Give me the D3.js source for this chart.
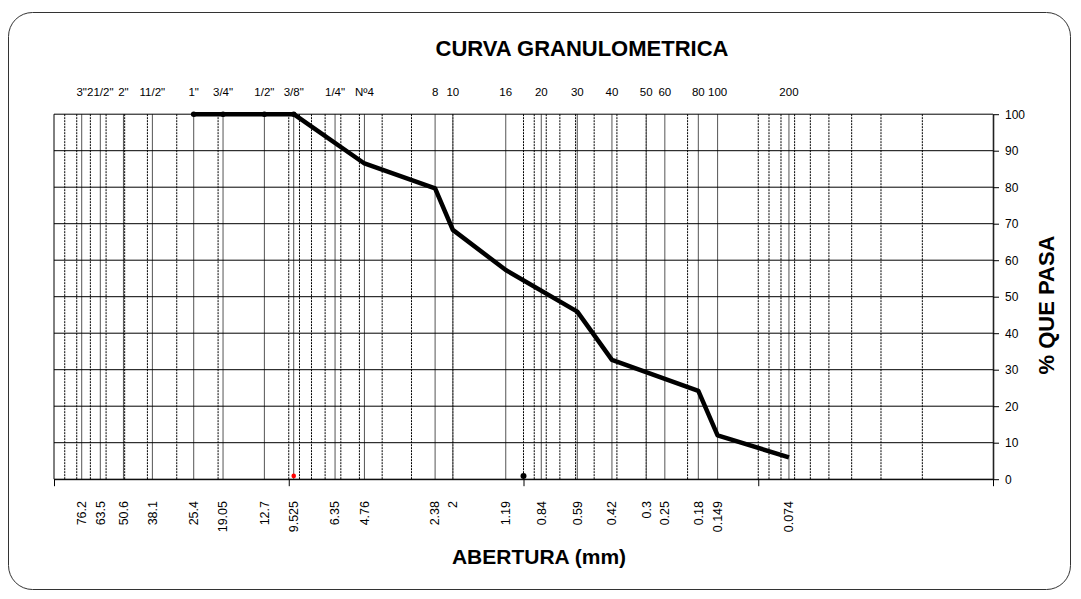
<!DOCTYPE html>
<html><head><meta charset="utf-8">
<script src="https://cdn.jsdelivr.net/npm/d3@7"></script>
<style>body{margin:0;background:#fff;} text{font-family:"Liberation Sans",Arial,sans-serif;}</style>
</head><body><svg id="c" width="1081" height="599"></svg>
<script>
// ---- data ----
const sieveSizes = [76.2,63.5,50.6,38.1,25.4,19.05,12.7,9.525,6.35,4.76,2.38,2,1.19,0.84,0.59,0.42,0.3,0.25,0.18,0.149,0.074];
const sieveNames = ['3"','21/2"','2"','11/2"','1"','3/4"','1/2"','3/8"','1/4"','Nº4','8','10','16','20','30','40','50','60','80','100','200'];
const openingLabels = ["76.2","63.5","50.6","38.1","25.4","19.05","12.7","9.525","6.35","4.76","2.38","2","1.19","0.84","0.59","0.42","0.3","0.25","0.18","0.149","0.074"];
const curveSizes = [25.4,19.05,12.7,9.525,4.76,2.38,2,1.19,0.59,0.42,0.18,0.149,0.074];
const curvePassing = [100,100,100,100,86.5,79.7,68.3,57.3,45.9,32.7,24.2,12.0,6.0];
const markedSizes = [25.4,19.05,12.7,9.525];
const markedPassing = [100,100,100,100];
const blackPointSize = [1];
const blackPointPassing = [0.9];
const redPointSize = [9.525];
const redPointPassing = [0.9];
const yTicks = [0,10,20,30,40,50,60,70,80,90,100];
const majorX = [100,10,1,0.1,0.01];

// ---- layout ----
const L = 54, R = 993, T = 114.2, B = 479.2;
const svg = d3.select("#c");
svg.append("rect").attr("x",8.5).attr("y",12.5).attr("width",1062).attr("height",577)
  .attr("rx",24).attr("fill","#fff").attr("stroke","#333").attr("stroke-width",1);

const x = d3.scaleLog().domain([100,0.01]).range([L,R]);
const y = d3.scaleLinear().domain([0,100]).range([B,T]);

const g = svg.append("g");
// dashed log gridlines
g.selectAll("line.minor").data(x.ticks().filter(v=>v<100 && v>0.01)).join("line")
  .attr("class","minor").attr("x1",d=>x(d)).attr("x2",d=>x(d)).attr("y1",T).attr("y2",B)
  .attr("stroke","#000").attr("stroke-width",1).attr("stroke-dasharray","2,1");
// sieve lines
g.selectAll("line.sieve").data(sieveSizes).join("line")
  .attr("class","sieve").attr("x1",d=>x(d)).attr("x2",d=>x(d)).attr("y1",T).attr("y2",B)
  .attr("stroke","#555").attr("stroke-width",1);
// horizontal gridlines
g.selectAll("line.h").data(yTicks).join("line")
  .attr("class","h").attr("x1",L).attr("x2",R).attr("y1",d=>y(d)).attr("y2",d=>y(d))
  .attr("stroke","#000").attr("stroke-width",1);
// left border
g.append("line").attr("x1",L).attr("x2",L).attr("y1",T).attr("y2",B).attr("stroke","#000");

// bottom axis
const xa = svg.append("g").attr("transform",`translate(0,${B})`)
  .call(d3.axisBottom(x).tickValues(majorX).tickFormat("").tickSize(7).tickSizeOuter(0));
xa.select(".domain").attr("stroke","#000");
// right axis
const ya = svg.append("g").attr("transform",`translate(${R},0)`)
  .call(d3.axisRight(y).tickValues(yTicks).tickSize(6).tickPadding(6).tickSizeOuter(0));
ya.select(".domain").attr("stroke","#222").attr("stroke-width",1.6);
ya.selectAll("text").attr("font-size",12).attr("fill","#000").style("font-family","Liberation Sans, Arial, sans-serif");

// top sieve names
svg.selectAll("text.top").data(sieveSizes).join("text").attr("class","top")
  .attr("x",d=>x(d)).attr("y",96).attr("text-anchor","middle").attr("font-size",11.5)
  .text((d,i)=>sieveNames[i]);
// bottom opening labels
svg.selectAll("text.bot").data(sieveSizes).join("text").attr("class","bot")
  .attr("transform",d=>`translate(${x(d)},501) rotate(-90)`).attr("dy","0.35em")
  .attr("text-anchor","end").attr("font-size",12.5)
  .text((d,i)=>openingLabels[i]);

// curve
svg.append("path").datum(curveSizes.map((s,i)=>[s,curvePassing[i]]))
  .attr("d",d3.line().x(d=>x(d[0])).y(d=>y(d[1])))
  .attr("fill","none").attr("stroke","#000").attr("stroke-width",4.5).attr("stroke-linejoin","round");
svg.selectAll("circle.m").data(markedSizes).join("circle").attr("class","m")
  .attr("cx",d=>x(d)).attr("cy",(d,i)=>y(markedPassing[i])).attr("r",2.8).attr("fill","#000");
svg.selectAll("circle.b").data(blackPointSize).join("circle").attr("class","b")
  .attr("cx",d=>x(d)).attr("cy",(d,i)=>y(blackPointPassing[i])).attr("r",3).attr("fill","#000");
svg.selectAll("circle.r").data(redPointSize).join("circle").attr("class","r")
  .attr("cx",d=>x(d)).attr("cy",(d,i)=>y(redPointPassing[i])).attr("r",2.3).attr("fill","#f00");

// titles
svg.append("text").attr("x",582).attr("y",56).attr("text-anchor","middle")
  .attr("font-size",22).attr("font-weight","bold").text("CURVA GRANULOMETRICA");
svg.append("text").attr("x",539).attr("y",564).attr("text-anchor","middle")
  .attr("font-size",21).attr("font-weight","bold").text("ABERTURA (mm)");
svg.append("text").attr("transform","translate(1054,305) rotate(-90)").attr("text-anchor","middle")
  .attr("font-size",22).attr("font-weight","bold").text("% QUE PASA");
</script></body></html>
